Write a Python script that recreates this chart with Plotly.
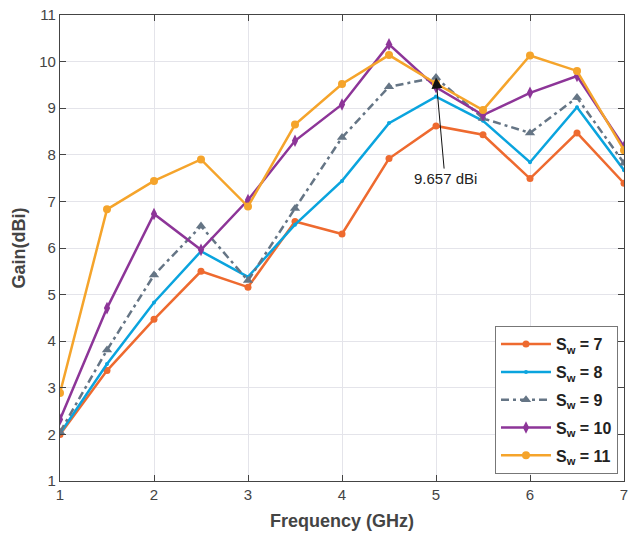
import plotly.graph_objects as go

freq = [1, 1.5, 2, 2.5, 3, 3.5, 4, 4.5, 5, 5.5, 6, 6.5, 7]
sw7 = [2.0, 3.37, 4.47, 5.5, 5.16, 6.57, 6.3, 7.92, 8.62, 8.43, 7.49, 8.47, 7.39]
sw8 = [2.02, 3.51, 4.83, 5.93, 5.38, 6.5, 7.44, 8.68, 9.25, 8.73, 7.84, 9.02, 7.67]
sw9 = [2.05, 3.81, 5.42, 6.47, 5.3, 6.85, 8.37, 9.46, 9.657, 8.78, 8.47, 9.23, 7.82]
sw10 = [2.32, 4.71, 6.73, 5.96, 7.03, 8.3, 9.08, 10.37, 9.45, 8.85, 9.33, 9.69, 8.17]
sw11 = [2.89, 6.83, 7.44, 7.9, 6.89, 8.65, 9.52, 10.14, 9.53, 8.96, 10.13, 9.8, 8.1]
names = ["<b>S<sub>w</sub> = 7</b>", "<b>S<sub>w</sub> = 8</b>", "<b>S<sub>w</sub> = 9</b>",
         "<b>S<sub>w</sub> = 10</b>", "<b>S<sub>w</sub> = 11</b>"]
xticks = [1, 2, 3, 4, 5, 6, 7]
yticks = [1, 2, 3, 4, 5, 6, 7, 8, 9, 10, 11]

styles = [
    dict(color="#EE6A2F", symbol="circle", size=7, dash="solid"),
    dict(color="#0AA4DE", symbol="circle", size=4, dash="solid"),
    dict(color="#657585", symbol="triangle-up", size=9, dash="8px,4px,3px,4px"),
    dict(color="#8D3598", symbol="diamond-tall", size=9, dash="solid"),
    dict(color="#F5A42B", symbol="circle", size=8, dash="solid"),
]

fig = go.Figure()
for i, (ys, nm, st) in enumerate(zip([sw7, sw8, sw9, sw10, sw11], names, styles)):
    fig.add_trace(go.Scatter(
        x=freq, y=ys, name=nm, mode="lines+markers", legendgroup=f"g{i}",
        line=dict(color=st["color"], width=2.5, dash=st["dash"]),
        marker=dict(color=st["color"], symbol=st["symbol"], size=st["size"]),
    ))

fig.add_annotation(
    x=5, y=9.657, text="9.657 dBi", showarrow=True,
    ax=9, ay=101, arrowhead=2, arrowsize=2.2, arrowwidth=1, arrowcolor="#111",
    font=dict(family="Liberation Sans, Arial", size=15, color="#222"),
)

axis_common = dict(
    showline=True, linecolor="#444", linewidth=1.2, mirror="ticks",
    ticks="inside", ticklen=6, tickcolor="#444",
    showgrid=True, gridcolor="#E4E4EA", gridwidth=1, zeroline=False,
    ticklabeloverflow="allow",
    tickfont=dict(family="Liberation Sans, Arial", size=15, color="#444"),
)

fig.update_layout(
    width=631, height=536,
    margin=dict(l=59.5, r=3, t=15, b=55),
    paper_bgcolor="white", plot_bgcolor="white",
    xaxis=dict(range=[1, 7], tickvals=xticks,
               title=dict(text="<b>Frequency (GHz)</b>", standoff=12,
                          font=dict(family="Liberation Sans, Arial", size=18, color="#444")),
               **axis_common),
    yaxis=dict(range=[1, 11], tickvals=yticks,
               title=dict(text="<b>Gain(dBi)</b>", standoff=8,
                          font=dict(family="Liberation Sans, Arial", size=18, color="#444")),
               **axis_common),
    legend=dict(x=0.989, y=0.015, xanchor="right", yanchor="bottom",
                bgcolor="white", bordercolor="#777", borderwidth=1.2,
                font=dict(family="Liberation Sans, Arial", size=16, color="#222"),
                itemwidth=50, tracegroupgap=4),
    showlegend=True,
)

fig.write_html("out.html")
